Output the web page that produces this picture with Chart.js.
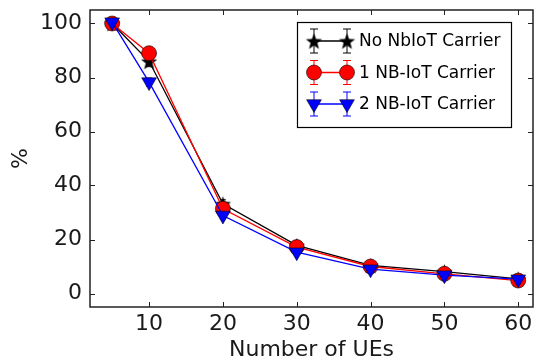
<!DOCTYPE html>
<html>
<head>
<meta charset="utf-8">
<script src="https://cdn.jsdelivr.net/npm/chart.js@4"></script>
<style>
	html, body { margin: 0; padding: 0; background: #fff; }
	#wrap { width: 534px; height: 363px; }
</style>
</head>
<body>
<div id="wrap"><canvas id="chart" width="534" height="363"></canvas></div>
<script>
// data
const ues = [5, 10, 20, 30, 40, 50, 60];
const no_nbiot = [100, 86, 33.2, 17.8, 10.4, 8.1, 5.4];
const one_nbiot = [100, 89, 31.4, 17.2, 10, 7.3, 4.8];
const two_nbiot = [100.5, 78.3, 28.9, 15.3, 9, 6.8, 5.3];
const no_nbiot_err = [0.5, 2, 1.5, 1, 0.8, 0.6, 0.5];
const one_nbiot_err = [0.5, 1.5, 1.2, 0.8, 0.6, 0.5, 0.4];
const two_nbiot_err = [0.5, 1.5, 1.2, 0.8, 0.6, 0.5, 0.4];
const x_ticks = [10, 20, 30, 40, 50, 60];
const y_ticks = [0, 20, 40, 60, 80, 100];
const labels = ['No NbIoT Carrier', '1 NB-IoT Carrier', '2 NB-IoT Carrier'];

const font_family = '"DejaVu Sans", sans-serif';
const text_color = '#1a1a1a';

// filled five point star, like matplotlib '*'
function makeStar(r) {
	const size = Math.ceil(r * 2 + 2);
	const c = document.createElement('canvas');
	c.width = size;
	c.height = size;
	const g = c.getContext('2d');
	g.beginPath();
	for (let i = 0; i < 10; i++) {
		const ang = -Math.PI / 2 + i * Math.PI / 5;
		const rad = i % 2 ? r * 0.42 : r;
		const px = size / 2 + rad * Math.cos(ang);
		const py = size / 2 + rad * Math.sin(ang) + 1;
		if (i === 0) g.moveTo(px, py); else g.lineTo(px, py);
	}
	g.closePath();
	g.fillStyle = '#000';
	g.fill();
	return c;
}
const star = makeStar(8.5);

const series = [
	{label: labels[0], values: no_nbiot, err: no_nbiot_err, color: '#000000', style: star, radius: 8, rotation: 0, order: 2},
	{label: labels[1], values: one_nbiot, err: one_nbiot_err, color: '#ff0000', style: 'circle', radius: 7.5, rotation: 0, order: 1},
	{label: labels[2], values: two_nbiot, err: two_nbiot_err, color: '#0000ff', style: 'triangle', radius: 8.5, rotation: 180, order: 0}
];

// error bars under the markers
const errorBars = {
	id: 'errorBars',
	beforeDatasetsDraw(chart) {
		const {ctx, scales: {x, y}} = chart;
		ctx.save();
		ctx.lineWidth = 1;
		series.forEach(s => {
			ctx.strokeStyle = s.color;
			s.values.forEach((v, i) => {
				const px = x.getPixelForValue(ues[i]);
				const top = y.getPixelForValue(v + s.err[i]);
				const bot = y.getPixelForValue(v - s.err[i]);
				ctx.beginPath();
				ctx.moveTo(px, top); ctx.lineTo(px, bot);
				ctx.moveTo(px - 3, top); ctx.lineTo(px + 3, top);
				ctx.moveTo(px - 3, bot); ctx.lineTo(px + 3, bot);
				ctx.stroke();
			});
		});
		ctx.restore();
	}
};

// frame with inward ticks on all four sides
const frame = {
	id: 'frame',
	afterDatasetsDraw(chart) {
		const {ctx, chartArea: a, scales: {x, y}} = chart;
		ctx.save();
		ctx.strokeStyle = '#222';
		ctx.lineWidth = 1;
		ctx.beginPath();
		x_ticks.forEach(t => {
			const px = Math.round(x.getPixelForValue(t)) + 0.5;
			ctx.moveTo(px, a.bottom); ctx.lineTo(px, a.bottom - 5);
			ctx.moveTo(px, a.top); ctx.lineTo(px, a.top + 5);
		});
		y_ticks.forEach(t => {
			const py = Math.round(y.getPixelForValue(t)) + 0.5;
			ctx.moveTo(a.left, py); ctx.lineTo(a.left + 5, py);
			ctx.moveTo(a.right, py); ctx.lineTo(a.right - 5, py);
		});
		ctx.stroke();
		ctx.lineWidth = 1.5;
		ctx.strokeRect(a.left, a.top, a.right - a.left, a.bottom - a.top);
		ctx.restore();
	}
};

// matplotlib style legend box
const legendBox = {
	id: 'legendBox',
	afterDraw(chart) {
		const ctx = chart.ctx;
		const box = {left: 297.5, top: 22.5, right: 511.5, bottom: 127.5};
		const rows = [41, 72.5, 104];
		const mx = [314, 347];
		ctx.save();
		ctx.fillStyle = '#fff';
		ctx.fillRect(box.left, box.top, box.right - box.left, box.bottom - box.top);
		ctx.strokeStyle = '#000';
		ctx.lineWidth = 1.2;
		ctx.strokeRect(box.left, box.top, box.right - box.left, box.bottom - box.top);
		series.forEach((s, k) => {
			const cy = rows[k];
			ctx.strokeStyle = s.color;
			ctx.lineWidth = 1.3;
			ctx.beginPath();
			ctx.moveTo(mx[0], cy); ctx.lineTo(mx[1], cy);
			ctx.stroke();
			mx.forEach(px => {
				ctx.strokeStyle = s.color;
				ctx.lineWidth = 1;
				ctx.beginPath();
				ctx.moveTo(px, cy - 12); ctx.lineTo(px, cy + 12);
				ctx.moveTo(px - 4, cy - 12); ctx.lineTo(px + 4, cy - 12);
				ctx.moveTo(px - 4, cy + 12); ctx.lineTo(px + 4, cy + 12);
				ctx.stroke();
				ctx.fillStyle = s.color;
				ctx.strokeStyle = '#000';
				ctx.lineWidth = 0.6;
				Chart.helpers.drawPoint(ctx, {
					pointStyle: s.style, radius: s.radius, rotation: s.rotation, borderWidth: 0.6
				}, px, cy);
			});
			ctx.fillStyle = '#000';
			ctx.font = '17px ' + font_family;
			ctx.textBaseline = 'middle';
			ctx.textAlign = 'left';
			ctx.fillText(s.label, 359, cy + 1);
		});
		ctx.restore();
	}
};

const datasets = series.map(s => ({
	label: s.label,
	data: ues.map((u, i) => ({x: u, y: s.values[i]})),
	borderColor: s.color,
	backgroundColor: s.color,
	borderWidth: 1.3,
	pointStyle: s.style,
	pointRadius: s.radius,
	pointRotation: s.rotation,
	pointBorderColor: '#000',
	pointBorderWidth: 0.6,
	pointBackgroundColor: s.color,
	tension: 0,
	order: s.order
}));

new Chart(document.getElementById('chart'), {
	type: 'line',
	data: {datasets: datasets},
	options: {
		responsive: false,
		animation: false,
		layout: {autoPadding: false, padding: {top: 10, right: 1, left: 0, bottom: 0}},
		plugins: {legend: {display: false}, tooltip: {enabled: false}},
		scales: {
			x: {
				type: 'linear',
				min: 2,
				max: 62,
				afterBuildTicks: scale => { scale.ticks = x_ticks.map(v => ({value: v})); },
				afterFit: scale => {
					scale.height = 56;
					scale.paddingLeft = 0;
					scale.paddingRight = 0;
				},
				grid: {display: false, drawTicks: false},
				border: {display: false},
				ticks: {padding: 4, color: text_color, font: {family: font_family, size: 22}},
				title: {display: true, text: 'Number of UEs', color: text_color, padding: {top: 0, bottom: 0}, font: {family: font_family, size: 22}}
			},
			y: {
				type: 'linear',
				min: -5,
				max: 105,
				afterBuildTicks: scale => { scale.ticks = y_ticks.map(v => ({value: v})); },
				afterFit: scale => {
					scale.width = 90;
					scale.paddingTop = 0;
					scale.paddingBottom = 0;
				},
				grid: {display: false, drawTicks: false},
				border: {display: false},
				ticks: {padding: 8, color: text_color, font: {family: font_family, size: 22}},
				title: {display: true, text: '%', color: text_color, padding: {top: 8, bottom: 0}, font: {family: font_family, size: 22}}
			}
		}
	},
	plugins: [errorBars, frame, legendBox]
});
</script>
</body>
</html>
